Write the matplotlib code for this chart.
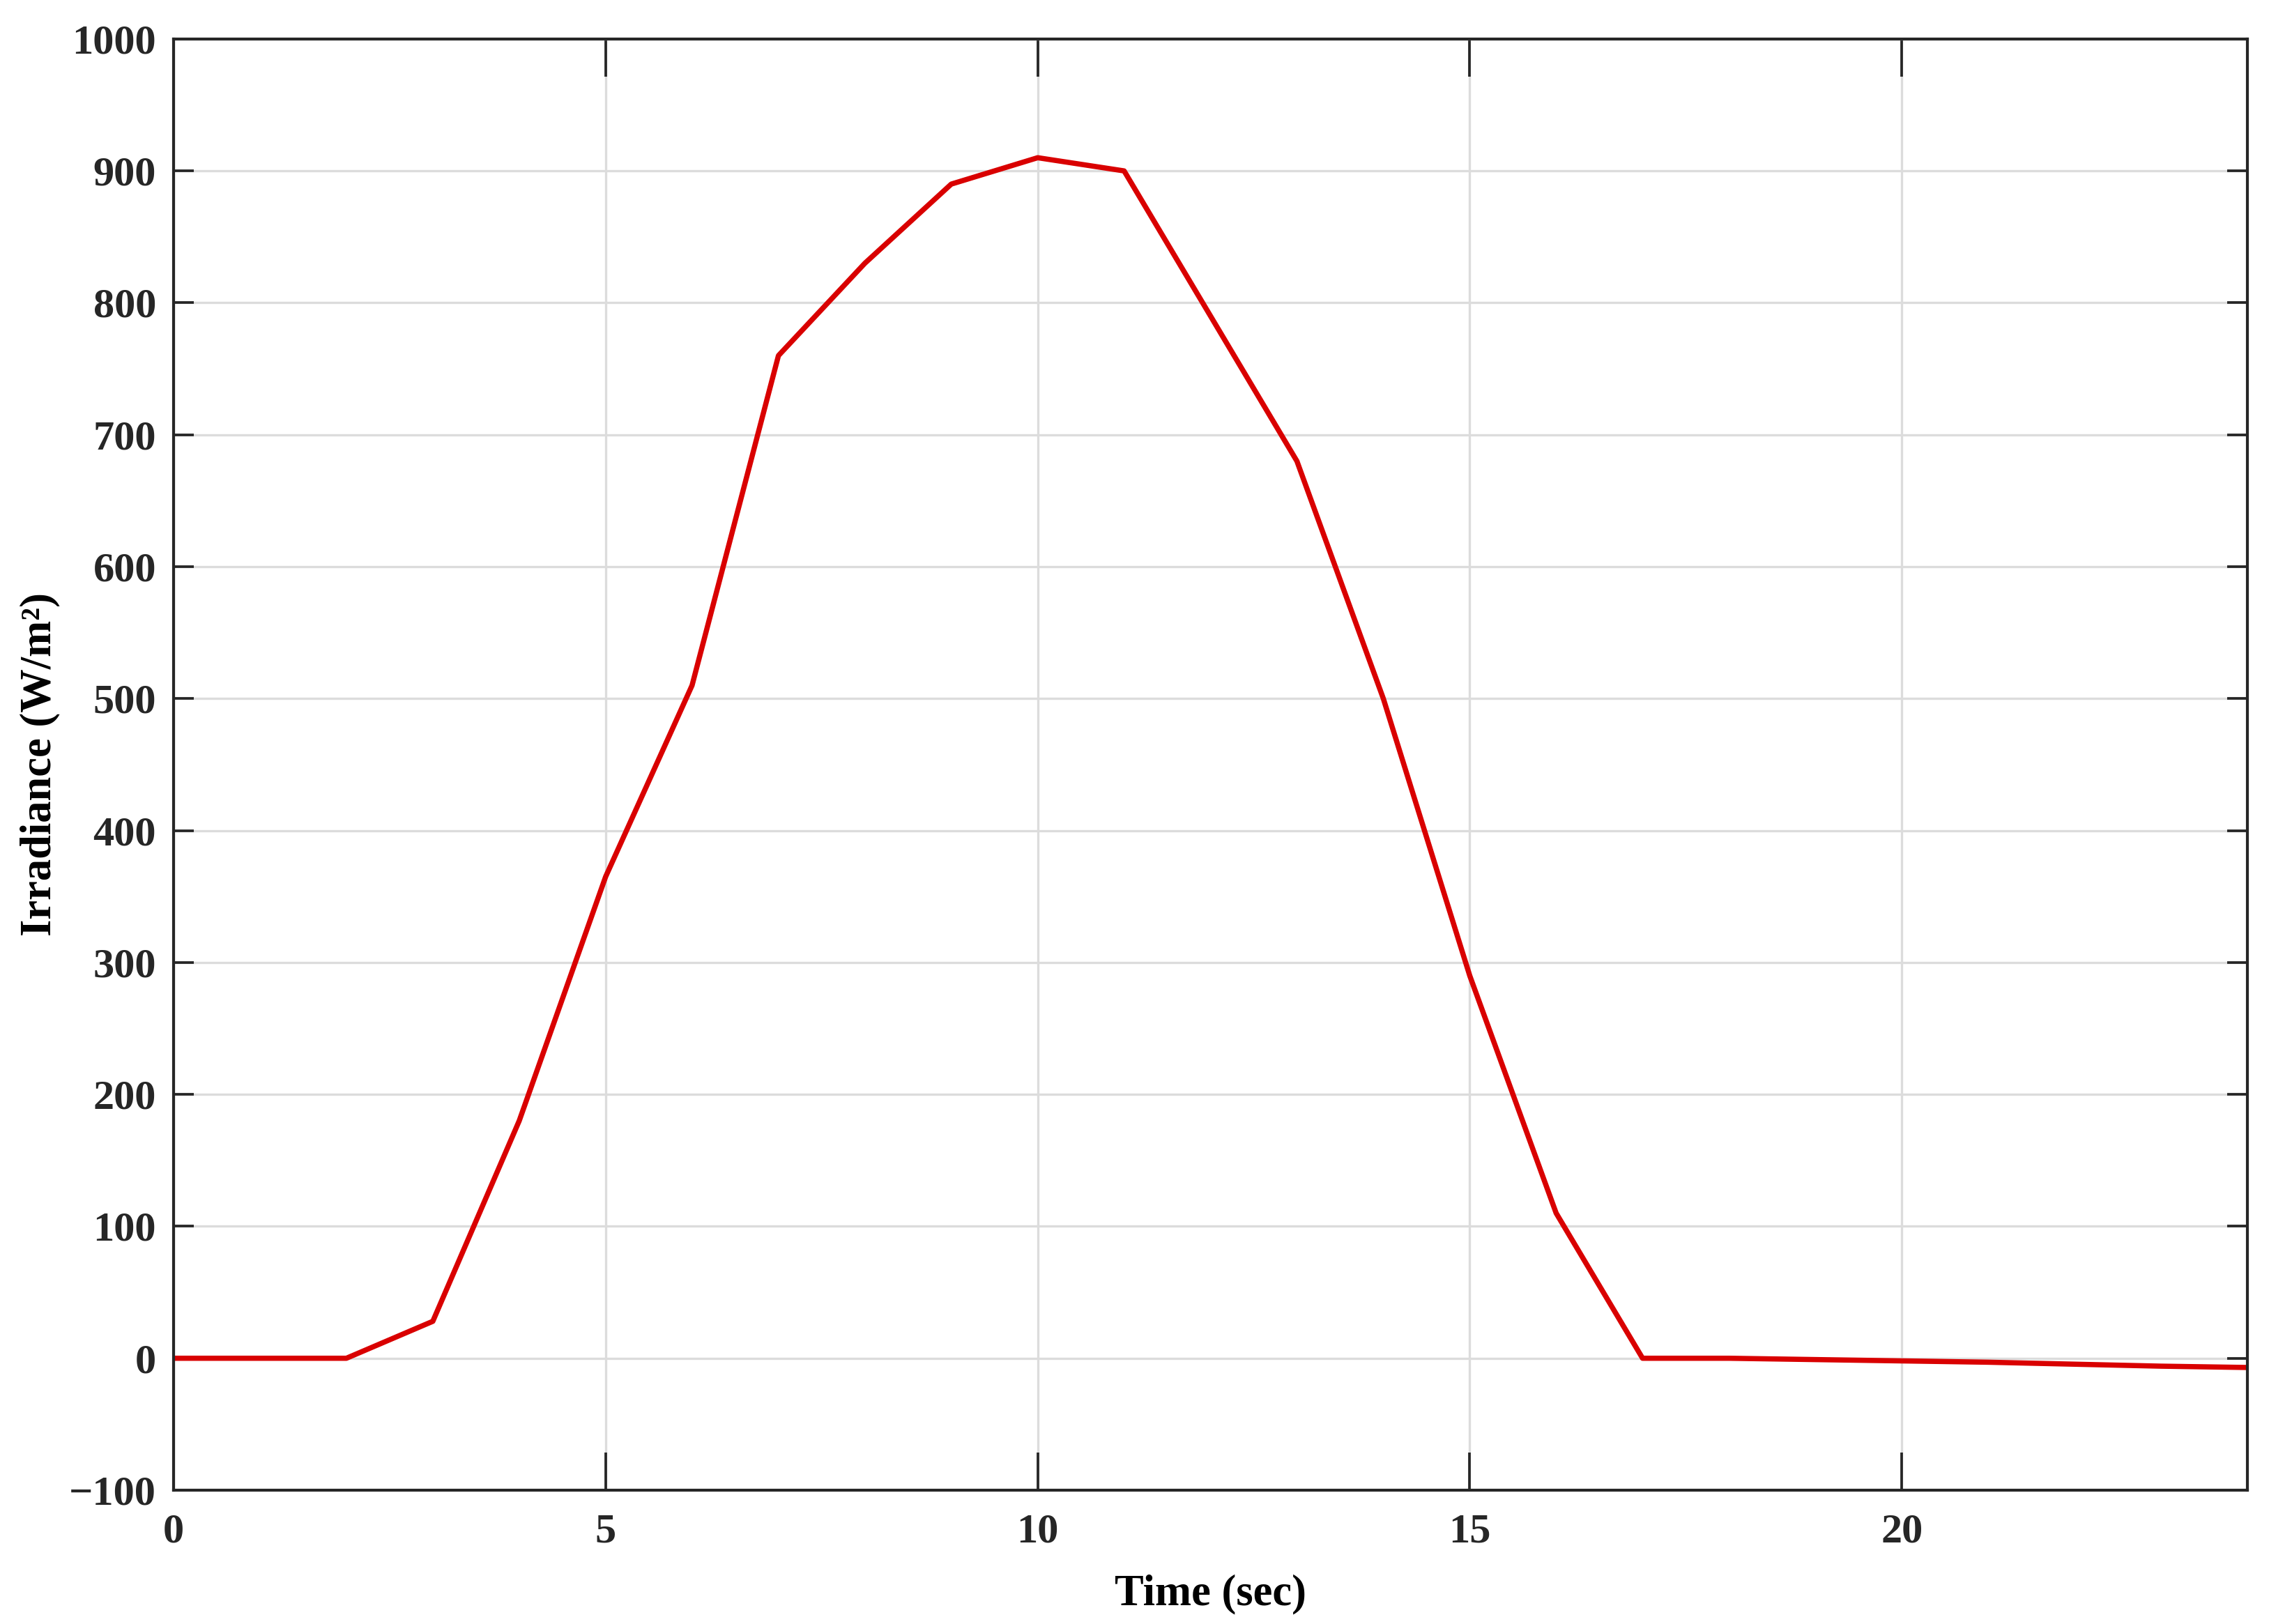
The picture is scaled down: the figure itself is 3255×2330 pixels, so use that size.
import numpy as np
import matplotlib.pyplot as plt

# Irradiance profile
time_sec = [0, 1, 2, 3, 4, 5, 6, 7, 8, 9, 10, 11, 12, 13, 14, 15, 16, 17, 18, 19, 20, 21, 22, 23, 24]
irradiance = [0, 0, 0, 28, 180, 365, 510, 760, 830, 890, 910, 900, 790, 680, 500, 290, 110,
              0, 0, -1, -2, -3, -4.5, -6, -7]

x_ticks = [0, 5, 10, 15, 20]
y_ticks = [-100, 0, 100, 200, 300, 400, 500, 600, 700, 800, 900, 1000]

plt.rcParams['font.family'] = ['Liberation Serif', 'DejaVu Serif']
plt.rcParams['font.weight'] = 'bold'

fig = plt.figure(figsize=(10.85, 7.7667), dpi=300)
ax = fig.add_axes([0.0765, 0.0824, 0.914, 0.8936])

ax.plot(time_sec, irradiance, color='#d90000', linewidth=1.8)

ax.set_xlim(0, 24)
ax.set_ylim(-100, 1000)
ax.set_xticks(x_ticks)
ax.set_yticks(y_ticks)
ax.set_yticklabels([str(v).replace('-', '\u2212') for v in y_ticks])

ax.grid(True, color='#dcdcdc', linewidth=0.8)
ax.set_axisbelow(True)

for s in ax.spines.values():
    s.set_color('#262626')
    s.set_linewidth(1.0)

ax.tick_params(axis='x', direction='in', length=13, width=0.9, color='#262626',
               top=True, labelsize=14.5, pad=8)
ax.tick_params(axis='y', direction='in', length=7, width=0.9, color='#262626',
               right=True, labelsize=14.5, pad=6)
for lbl in ax.get_xticklabels() + ax.get_yticklabels():
    lbl.set_fontweight('bold')
    lbl.set_color('#262626')

ax.set_xlabel('Time (sec)', fontsize=15, fontweight='bold', labelpad=8)
ax.set_ylabel('Irradiance (W/m²)', fontsize=15, fontweight='bold', labelpad=3)

fig.savefig('out.png', dpi=300, facecolor='white')
